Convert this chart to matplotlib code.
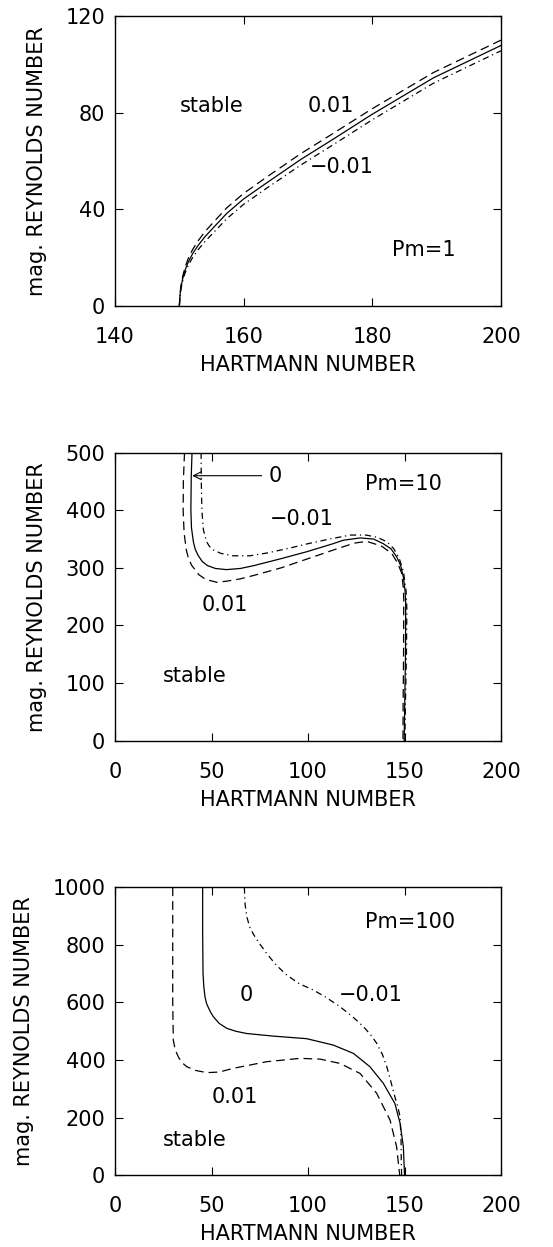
import matplotlib
matplotlib.use("Agg")
import matplotlib.pyplot as plt

plt.rcParams['font.family'] = ['DejaVu Sans']
plt.rcParams['font.size'] = 15

# ---- Pm = 1 ----
ha1 = [150.0, 150.1, 150.26, 150.52, 150.88, 151.4, 152.07, 152.95, 153.99, 155.28, 157.36,
       159.95, 163.6, 168.8, 173.9, 179.9, 189.5, 200.0]
rm1_zero = [0, 4.4, 7.9, 11.3, 14.8, 18.3, 21.7, 25.2, 28.7, 32.4, 38.3,
            44.2, 51.0, 60.5, 69.0, 79.2, 94.4, 107.8]
rm1_plus = [0, 4.9, 8.6, 12.3, 16.0, 19.8, 23.4, 27.1, 30.8, 34.6, 40.6,
            46.5, 53.4, 62.9, 71.4, 81.5, 96.6, 110.0]
rm1_minus = [0, 3.9, 7.2, 10.4, 13.6, 16.9, 20.1, 23.4, 26.7, 30.3, 36.1,
             42.0, 48.8, 58.2, 66.7, 76.9, 92.2, 105.6]

# ---- Pm = 10 ----
ha10_zero = [39.9, 39.5, 39.3, 39.6, 40.6, 41.6, 43.0, 45.2, 47.9, 52, 57.6, 65, 72, 86, 99.3,
             113, 118.3, 127, 134, 139, 143, 146, 148, 149.4, 150.3, 150.6, 150.5, 150.1, 149.8]
rm10_zero = [500, 460, 400, 370, 345, 332, 322, 311, 304, 299, 297, 299, 304, 316, 328,
             342, 348, 352, 350, 342, 333, 319, 304, 284, 260, 238, 150, 60, 0]
ha10_plus = [36.0, 35.4, 35.3, 35.8, 37.0, 38.2, 39.8, 43.5, 47, 52.7, 58, 65, 72, 86, 100, 114,
             124, 130.4, 138, 143.4, 146.5, 148.5, 149.4, 149.6, 149.5, 149.3, 149.2]
rm10_plus = [500, 450, 400, 360, 330, 315, 304, 288, 280, 275, 277, 281, 287, 300, 316, 332,
             343, 346, 338, 325, 308, 291, 265, 244, 150, 70, 0]
ha10_minus = [44.6, 44.7, 45.0, 45.8, 47.5, 49, 51, 55, 61, 70, 79, 90, 100, 111, 122, 130,
              136, 141, 144.5, 147.5, 149.5, 150.8, 151.2, 151.0, 150.5, 150.2]
rm10_minus = [500, 450, 400, 366, 345, 337, 331, 325, 321, 321, 326, 334, 342, 350, 357, 357,
              353, 345, 333, 314, 293, 260, 230, 150, 70, 0]

# ---- Pm = 100 ----
ha100_zero = [45.4, 45.4, 45.6, 46.0, 46.6, 47.4, 48.5, 49.7, 51, 54, 57.9, 62.5, 68.2, 82,
              99.3, 113, 123.5, 132, 139, 145, 147.7, 149.4, 150.0]
rm100_zero = [1000, 850, 701, 655, 620, 597, 580, 564, 550, 527, 510, 500, 492, 483,
              474, 452, 423, 377, 319, 249, 180, 98.5, 0]
ha100_plus = [29.9, 29.9, 29.9, 30.2, 31.2, 32.8, 34.5, 37.1, 41.5, 47.5, 54, 61.3, 78.6, 95.9,
              106.2, 116.6, 127, 135.6, 142.5, 145.9, 147.5]
rm100_plus = [1000, 800, 600, 469, 435, 411, 392, 377, 364, 356, 358, 371, 394, 405.6,
              403, 388, 353, 284, 191, 98.5, 0]
ha100_minus = [67, 67.4, 68.4, 69.8, 71.7, 74.3, 78.6, 83.5, 89, 95.5, 102.8, 109.5, 116.6,
               123, 128.7, 132.5, 135.6, 138.5, 140.8, 143, 145, 146.6, 147.7, 148.2, 148.3, 148.5]
rm100_minus = [1000, 940, 895, 862, 837, 810, 770, 730, 695, 665, 643, 617, 585,
               551, 516, 487, 458, 420, 377, 323, 272, 235, 203, 122, 52, 0]

dash = (0, (7, 4))
dashdot = (0, (5, 3, 1, 3))
lw = 0.9

fig = plt.figure(figsize=(5.53, 12.47), dpi=100)
rects = [
    [0.208, 0.7546, 0.698, 0.2326],
    [0.208, 0.406, 0.698, 0.231],
    [0.208, 0.0577, 0.698, 0.2307],
]
axes = [fig.add_axes(r) for r in rects]


def style(ax):
    ax.tick_params(direction='in', length=5.5, width=0.8, top=True, right=True)
    ax.tick_params(axis='x', pad=15)
    ax.tick_params(axis='y', pad=7)
    for s in ax.spines.values():
        s.set_linewidth(1.0)
    ax.set_xlabel('HARTMANN NUMBER', labelpad=6)
    ax.set_ylabel('mag. REYNOLDS NUMBER', labelpad=13)


# panel 1
ax = axes[0]
ax.plot(ha1, rm1_zero, color='black', lw=lw)
ax.plot(ha1, rm1_plus, color='black', lw=lw, linestyle=dash)
ax.plot(ha1, rm1_minus, color='black', lw=lw, linestyle=dashdot)
ax.set_xlim(140, 200)
ax.set_ylim(0, 120)
ax.set_xticks([140, 160, 180, 200])
ax.set_yticks([0, 40, 80, 120])
ax.text(150.1, 82.6, 'stable', va='center')
ax.text(170.0, 82.6, '0.01', va='center')
ax.text(170.3, 57.7, '\u22120.01', va='center')
ax.text(183.0, 23.1, 'Pm=1', va='center')
style(ax)

# panel 2
ax = axes[1]
ax.plot(ha10_zero, rm10_zero, color='black', lw=lw)
ax.plot(ha10_plus, rm10_plus, color='black', lw=lw, linestyle=dash)
ax.plot(ha10_minus, rm10_minus, color='black', lw=lw, linestyle=dashdot)
ax.set_xlim(0, 200)
ax.set_ylim(0, 500)
ax.set_xticks([0, 50, 100, 150, 200])
ax.set_yticks([0, 100, 200, 300, 400, 500])
ax.annotate('', xy=(40.0, 460), xytext=(76, 460),
            arrowprops=dict(arrowstyle='->', lw=0.8, shrinkA=0, shrinkB=0,
                            mutation_scale=14, color='black'))
ax.text(79.5, 460, '0', va='center')
ax.text(129.5, 445, 'Pm=10', va='center')
ax.text(80.3, 384, '\u22120.01', va='center')
ax.text(44.9, 236, '0.01', va='center')
ax.text(25, 112.5, 'stable', va='center')
style(ax)

# panel 3
ax = axes[2]
ax.plot(ha100_zero, rm100_zero, color='black', lw=lw)
ax.plot(ha100_plus, rm100_plus, color='black', lw=lw, linestyle=dash)
ax.plot(ha100_minus, rm100_minus, color='black', lw=lw, linestyle=dashdot)
ax.set_xlim(0, 200)
ax.set_ylim(0, 1000)
ax.set_xticks([0, 50, 100, 150, 200])
ax.set_yticks([0, 200, 400, 600, 800, 1000])
ax.text(129.5, 880, 'Pm=100', va='center')
ax.text(64.8, 626, '0', va='center')
ax.text(115.7, 626, '\u22120.01', va='center')
ax.text(50.1, 272, '0.01', va='center')
ax.text(25, 122, 'stable', va='center')
style(ax)

fig.savefig('out.png', dpi=100)
